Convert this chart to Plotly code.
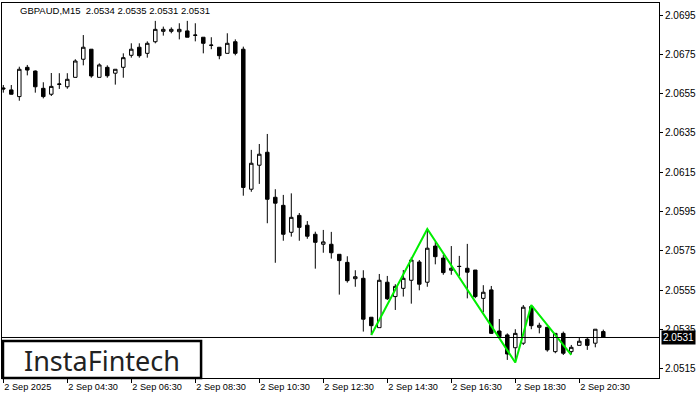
import plotly.graph_objects as go

# ---- data (GBPAUD M15, 2 Sep 2025, bars from 02:30 to 21:15) ----
bar_index = list(range(76))

opens = [2.06579, 2.06569, 2.06535, 2.06684, 2.06665, 2.06577, 2.06547, 2.06597, 2.06585, 2.06633,
         2.06725, 2.06776, 2.06633, 2.06684, 2.06654, 2.06684, 2.06745, 2.06786, 2.06755, 2.06814,
         2.06867, 2.06867, 2.06865, 2.06869, 2.06848, 2.06837, 2.06797, 2.06786, 2.06755, 2.06814,
         2.06776, 2.06064, 2.06186, 2.06252, 2.06023, 2.05982, 2.05845, 2.05931, 2.05881, 2.05835,
         2.05784, 2.05784, 2.05733, 2.05692, 2.05609, 2.05611, 2.05413, 2.05360, 2.05591, 2.05518,
         2.05560, 2.05601, 2.05694, 2.05591, 2.05775, 2.05714, 2.05652, 2.05672, 2.05662, 2.05653,
         2.05509, 2.05552, 2.05343, 2.05323, 2.05258, 2.05281, 2.05467, 2.05362, 2.05362, 2.05238,
         2.05331, 2.05238, 2.05270, 2.05301, 2.05281, 2.05340]

highs = [2.06594, 2.06594, 2.06687, 2.06696, 2.06668, 2.06608, 2.06655, 2.06654, 2.06654, 2.06725,
         2.06848, 2.06776, 2.06704, 2.06694, 2.06674, 2.06755, 2.06806, 2.06806, 2.06816, 2.06920,
         2.06891, 2.06887, 2.06908, 2.06920, 2.06908, 2.06837, 2.06837, 2.06786, 2.06857, 2.06826,
         2.06789, 2.06264, 2.06294, 2.06345, 2.06064, 2.06035, 2.06043, 2.05943, 2.05902, 2.05848,
         2.05857, 2.05847, 2.05733, 2.05723, 2.05652, 2.05652, 2.05413, 2.05633, 2.05623, 2.05581,
         2.05653, 2.05718, 2.05704, 2.05862, 2.05796, 2.05730, 2.05775, 2.05725, 2.05786, 2.05653,
         2.05576, 2.05572, 2.05404, 2.05331, 2.05352, 2.05475, 2.05475, 2.05385, 2.05362, 2.05331,
         2.05340, 2.05272, 2.05311, 2.05311, 2.05352, 2.05350]

lows = [2.06555, 2.06546, 2.06514, 2.06643, 2.06555, 2.06526, 2.06538, 2.06574, 2.06575, 2.06633,
        2.06694, 2.06631, 2.06633, 2.06631, 2.06596, 2.06631, 2.06733, 2.06733, 2.06733, 2.06806,
        2.06845, 2.06857, 2.06826, 2.06837, 2.06816, 2.06755, 2.06776, 2.06725, 2.06755, 2.06745,
        2.06031, 2.06051, 2.06091, 2.05891, 2.05690, 2.05802, 2.05823, 2.05802, 2.05812, 2.05660,
        2.05741, 2.05711, 2.05528, 2.05589, 2.05568, 2.05340, 2.05323, 2.05360, 2.05501, 2.05450,
        2.05518, 2.05482, 2.05550, 2.05568, 2.05682, 2.05629, 2.05629, 2.05623, 2.05509, 2.05510,
        2.05438, 2.05328, 2.05310, 2.05196, 2.05183, 2.05272, 2.05352, 2.05331, 2.05238, 2.05230,
        2.05221, 2.05226, 2.05270, 2.05247, 2.05260, 2.05310]

closes = [2.06574, 2.06547, 2.06674, 2.06670, 2.06585, 2.06535, 2.06587, 2.06599, 2.06623, 2.06716,
          2.06786, 2.06640, 2.06696, 2.06641, 2.06674, 2.06733, 2.06776, 2.06743, 2.06806, 2.06877,
          2.06877, 2.06877, 2.06877, 2.06837, 2.06847, 2.06806, 2.06796, 2.06743, 2.06806, 2.06755,
          2.06073, 2.06196, 2.06242, 2.06013, 2.05993, 2.05835, 2.05921, 2.05870, 2.05825, 2.05794,
          2.05796, 2.05741, 2.05701, 2.05599, 2.05619, 2.05403, 2.05370, 2.05601, 2.05507, 2.05570,
          2.05611, 2.05704, 2.05581, 2.05764, 2.05721, 2.05640, 2.05662, 2.05671, 2.05642, 2.05518,
          2.05540, 2.05331, 2.05314, 2.05226, 2.05331, 2.05464, 2.05370, 2.05372, 2.05247, 2.05331,
          2.05230, 2.05260, 2.05291, 2.05270, 2.05352, 2.05310]

# pattern (green zigzag) pivots
pattern_idx = [46, 53, 64, 66, 71]
pattern_price = [2.05323, 2.05862, 2.05183, 2.05475, 2.05221]

# axis ticks
x_tick_idx = [0, 8, 16, 24, 32, 40, 48, 56, 64, 72]
x_tick_labels = ["2 Sep 2025", "2 Sep 04:30", "2 Sep 06:30", "2 Sep 08:30", "2 Sep 10:30",
                 "2 Sep 12:30", "2 Sep 14:30", "2 Sep 16:30", "2 Sep 18:30", "2 Sep 20:30"]
y_tick_vals = [2.0515, 2.0535, 2.0555, 2.0575, 2.0595, 2.0615, 2.0635, 2.0655, 2.0675, 2.0695]
y_tick_labels = ["%.4f" % v for v in y_tick_vals]

symbol = "GBPAUD,M15"
last_close = closes[-1]
header = "%s  %.4f %.4f %.4f %.4f" % (symbol, opens[-1], highs[-1], lows[-1], closes[-1])

FONT = "Liberation Sans, Arial, sans-serif"

fig = go.Figure()
fig.add_trace(go.Candlestick(
    x=bar_index, open=opens, high=highs, low=lows, close=closes,
    increasing=dict(line=dict(color="black", width=1), fillcolor="white"),
    decreasing=dict(line=dict(color="black", width=1), fillcolor="black"),
    whiskerwidth=0, showlegend=False, hoverinfo="skip"))

fig.add_trace(go.Scatter(
    x=pattern_idx, y=pattern_price, mode="lines",
    line=dict(color="#00ee00", width=2), showlegend=False, hoverinfo="skip"))

fig.add_shape(type="line", xref="paper", x0=0, x1=1, yref="y", y0=last_close, y1=last_close,
              line=dict(color="black", width=1))

# logo box
fig.add_shape(type="rect", xref="paper", yref="paper", x0=0.0015, x1=0.303, y0=0.0, y1=0.0987,
              line=dict(color="black", width=2.5), fillcolor="white", layer="above")
fig.add_annotation(xref="paper", yref="paper", x=0.152, y=0.048, text="InstaFintech",
                   showarrow=False, xanchor="center", yanchor="middle",
                   font=dict(family="Noto Sans", size=27, color="#222222"))

# header text
fig.add_annotation(xref="paper", yref="paper", x=0.0244, y=0.979, text=header,
                   showarrow=False, xanchor="left", yanchor="middle",
                   font=dict(family=FONT, size=9.5, color="black"))

# current price label
fig.add_annotation(xref="paper", yref="y", x=1, y=last_close, text="%.4f" % last_close,
                   showarrow=False, xanchor="left", yanchor="middle", xshift=2,
                   bgcolor="black", borderpad=1,
                   font=dict(family=FONT, size=10, color="white"))

fig.update_layout(
    width=700, height=400,
    margin=dict(l=2, r=41, t=3, b=22),
    paper_bgcolor="white", plot_bgcolor="white",
    boxgap=0.38,
    showlegend=False,
    font=dict(family=FONT, size=10, color="black"),
)
fig.update_xaxes(
    range=[-0.1625, 81.9625], showgrid=False, zeroline=False,
    showline=True, mirror=True, linecolor="black", linewidth=1,
    ticks="outside", ticklen=4, tickcolor="black",
    tickvals=x_tick_idx, ticktext=x_tick_labels,
    ticklabelposition="outside right",
    tickfont=dict(family=FONT, size=9.2, color="black"),
    rangeslider=dict(visible=False))
fig.update_yaxes(
    range=[2.05104, 2.07011], side="right", showgrid=False, zeroline=False,
    showline=True, mirror=True, linecolor="black", linewidth=1,
    ticks="outside", ticklen=3, tickcolor="black",
    tickvals=y_tick_vals, ticktext=y_tick_labels,
    tickfont=dict(family=FONT, size=10, color="black"))

fig.write_html("out.html", config={"displayModeBar": False},
               post_script="document.body.style.margin='0px';document.body.style.padding='0px';")
